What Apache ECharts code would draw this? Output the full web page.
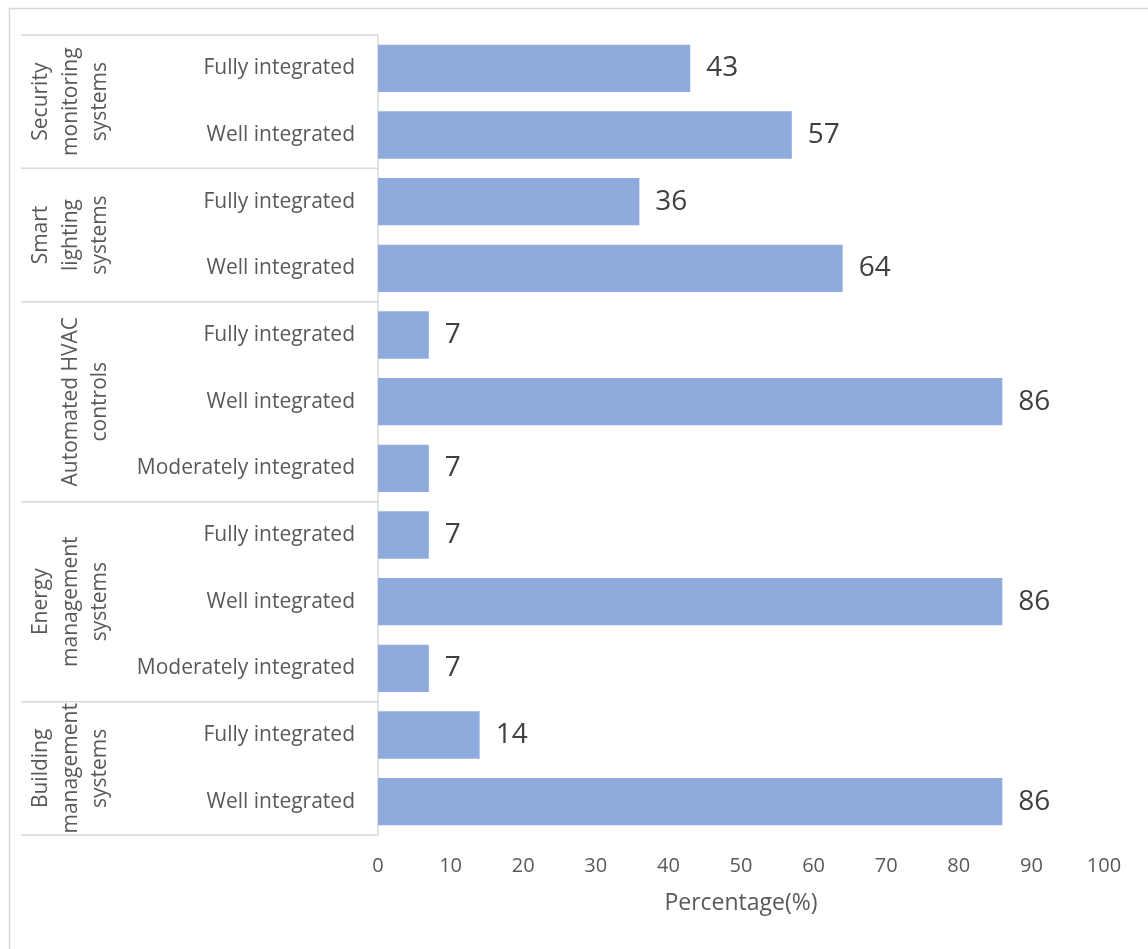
<!DOCTYPE html>
<html>
<head>
<meta charset="utf-8">
<script src="https://cdn.jsdelivr.net/npm/echarts@6/dist/echarts.min.js"></script>
<style>html,body{margin:0;padding:0;background:#fff;}#chart{width:1148px;height:949px;}</style>
</head>
<body>
<div id="chart"></div>
<script>
// Rows listed top to bottom
var subCategories = [
  'Fully integrated', 'Well integrated',
  'Fully integrated', 'Well integrated',
  'Fully integrated', 'Well integrated', 'Moderately integrated',
  'Fully integrated', 'Well integrated', 'Moderately integrated',
  'Fully integrated', 'Well integrated'
];
var values = [43, 57, 36, 64, 7, 86, 7, 7, 86, 7, 14, 86];
var groupNames = [
  'Security\nmonitoring\nsystems',
  'Smart\nlighting\nsystems',
  'Automated HVAC\ncontrols',
  'Energy\nmanagement\nsystems',
  'Building\nmanagement\nsystems'
];
var groupSizes = [2, 2, 3, 3, 2];
var xTicks = [0, 100, 10];
var xAxisName = 'Percentage(%)';

var FONT = '"Open Sans", "Noto Sans", sans-serif';
var groupData = [];
var start = 0;
for (var i = 0; i < groupSizes.length; i++) {
  groupData.push([0, start, groupSizes[i], i]);
  start += groupSizes[i];
}

var chart = echarts.init(document.getElementById('chart'));
chart.setOption({
  animation: false,
  backgroundColor: '#fff',
  textStyle: { fontFamily: FONT },
  graphic: [{
    type: 'rect', left: 7, top: 6,
    shape: { width: 1200, height: 1000 },
    style: { fill: 'none', stroke: '#D9D9D9', lineWidth: 1.5 },
    silent: true
  }],
  grid: { left: 378, right: 44, top: 35, bottom: 114 },
  xAxis: {
    type: 'value', min: xTicks[0], max: xTicks[1], interval: xTicks[2],
    axisLine: { show: false }, axisTick: { show: false }, splitLine: { show: false },
    axisLabel: { color: '#595959', fontSize: 20, margin: 21, fontFamily: FONT },
    name: xAxisName, nameLocation: 'middle', nameGap: 57,
    nameTextStyle: { color: '#595959', fontSize: 23, fontFamily: FONT }
  },
  yAxis: {
    type: 'category', inverse: true, data: subCategories,
    axisLine: { show: true, lineStyle: { color: '#D9D9D9', width: 1.5 } },
    axisTick: { show: false },
    axisLabel: { color: '#595959', fontSize: 21, margin: 23, fontFamily: FONT, interval: 0, padding: [4, 0, 0, 0] }
  },
  series: [{
    type: 'bar', data: values, barCategoryGap: '29%',
    itemStyle: { color: '#8FAADC' },
    label: { show: true, position: 'right', distance: 16, fontSize: 28, color: '#404040', fontFamily: FONT, padding: [4, 0, 0, 0] }
  }, {
    type: 'custom', data: groupData, clip: false, silent: true,
    encode: { x: 0, y: 1 },
    renderItem: function (params, api) {
      var s = api.value(1), n = api.value(2), idx = api.value(3);
      var band = api.size([0, 1])[1];
      var p0 = api.coord([0, s]);
      var p1 = api.coord([0, s + n - 1]);
      var top = p0[1] - band / 2, bottom = p1[1] + band / 2;
      var axisX = p0[0];
      var leftX = axisX - 357;
      var children = [{
        type: 'line',
        shape: { x1: leftX, y1: top, x2: axisX, y2: top },
        style: { stroke: '#D9D9D9', lineWidth: 1.5 }
      }, {
        type: 'text',
        x: axisX - 263, y: (top + bottom) / 2,
        rotation: Math.PI / 2,
        style: {
          text: groupNames[idx], align: 'center', verticalAlign: 'bottom',
          fontSize: 21, lineHeight: 29.5, fill: '#595959', fontFamily: FONT
        }
      }];
      if (idx === groupSizes.length - 1) {
        children.push({
          type: 'line',
          shape: { x1: leftX, y1: bottom, x2: axisX, y2: bottom },
          style: { stroke: '#D9D9D9', lineWidth: 1.5 }
        });
      }
      return { type: 'group', children: children };
    }
  }]
});
</script>
</body>
</html>
